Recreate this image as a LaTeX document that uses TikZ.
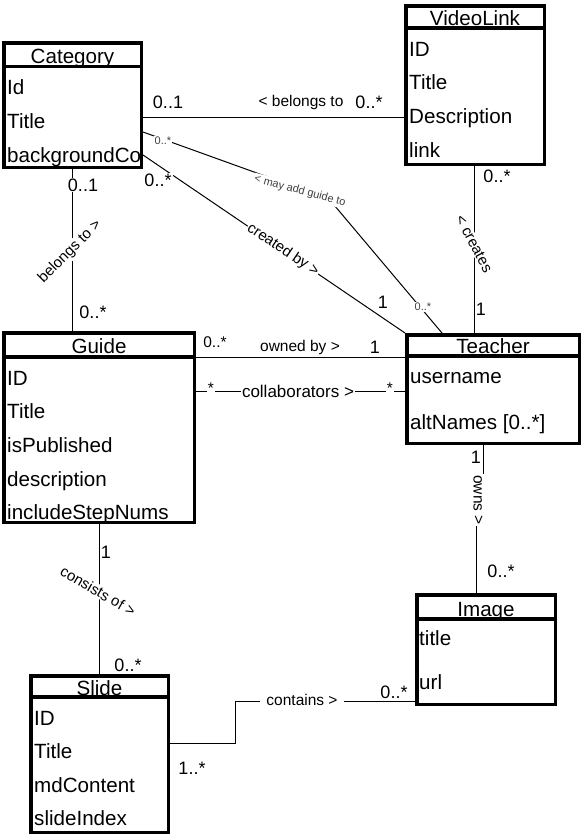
\documentclass[tikz,border=0pt]{standalone}
\usepackage{fontspec}
\setmainfont{Liberation Sans}
\newcommand\myfs[1]{\fontsize{#1}{#1}\selectfont}
\begin{document}
\begin{tikzpicture}[x=1pt,y=-1pt,
  cbox/.style={draw, line width=3.5pt, fill=white, inner sep=0pt, anchor=north west},
  sepline/.style={line width=3.5pt},
  hd/.style={anchor=base, inner sep=0pt, font=\myfs{20.6}},
  attr/.style={anchor=base west, inner sep=0pt, font=\myfs{20.6}},
  mult/.style={inner sep=1pt, font=\myfs{18}},
  smult/.style={inner sep=1pt, font=\myfs{11}, text=black!75},
  lab/.style={inner sep=1pt, font=\myfs{15.5}},
  rlab/.style={inner sep=1pt, font=\myfs{15}},
  wb/.style={fill=white},
  conn/.style={line width=1pt}
]
\useasboundingbox (0,0) rectangle (584,836);

% ---------- connectors ----------
\coordinate (bendA) at (329,199);
\coordinate (jogA) at (483,500);
\coordinate (jogB) at (476,500);
\coordinate (stepA) at (235,743);
\coordinate (stepB) at (235,701);

% ---------- class boxes ----------
\node[cbox, minimum width=137.5pt, minimum height=124.5pt] (cat) at (2,41) {};
\node[cbox, minimum width=138.5pt, minimum height=158.5pt] (vl)  at (404,4) {};
\node[cbox, minimum width=190.5pt, minimum height=189.5pt] (gui) at (2,331) {};
\node[cbox, minimum width=172.5pt, minimum height=108.5pt] (tea) at (405,333) {};
\node[cbox, minimum width=138.5pt, minimum height=109.5pt] (img) at (415,593) {};
\node[cbox, minimum width=137.5pt, minimum height=156.5pt] (sli) at (29,674) {};

\draw[conn] (cat.east |- 0,117) -- (vl.west |- 0,117);
\draw[conn] (cat.east |- 0,132) -- (bendA) -- (tea.north -| 442,0);
\draw[conn] (cat.east |- 0,155) -- (tea.north west);
\draw[conn] (vl.south -| 474,0) -- (tea.north -| 474,0);
\draw[conn] (cat.south -| 72,0) -- (gui.north -| 72,0);
\draw[conn] (gui.east |- 0,357) -- (tea.west |- 0,357);
\draw[conn] (gui.east |- 0,391) -- (tea.west |- 0,391);
\draw[conn] (tea.south -| jogA) -- (jogA) -- (jogB) -- (img.north -| jogB);
\draw[conn] (gui.south -| 99,0) -- (sli.north -| 99,0);
\draw[conn] (sli.east |- stepA) -- (stepA) -- (stepB) -- (img.west |- stepB);

% ---------- class texts ----------
\node[hd] (catH) at (cat.north |- 0,63) {Category};
\node[attr] (cat1) at (7,94) {Id};
\node[attr] (cat2) at (7,128) {Title};
\begin{scope}
  \clip (4,69) rectangle (140,167);
  \node[attr] (cat3) at (7,162) {backgroundColor};
\end{scope}

\node[hd] (vlH) at (vl.north |- 0,25) {VideoLink};
\node[attr] (vl1) at (409,56) {ID};
\node[attr] (vl2) at (409,89) {Title};
\node[attr] (vl3) at (409,123) {Description};
\node[attr] (vl4) at (409,157) {link};

\node[hd] (guiH) at (gui.north |- 0,353) {Guide};
\node[attr] (gui1) at (7,385) {ID};
\node[attr] (gui2) at (7,418) {Title};
\node[attr] (gui3) at (7,452) {isPublished};
\node[attr] (gui4) at (7,486) {description};
\node[attr] (gui5) at (7,519) {includeStepNums};

\node[hd] (teaH) at (tea.north |- 0,353) {Teacher};
\node[attr] (tea1) at (410,383) {username};
\node[attr] (tea2) at (410,429) {altNames [0..*]};

\node[hd] (imgH) at (img.north |- 0,616) {Image};
\node[attr] (img1) at (419,645) {title};
\node[attr] (img2) at (419,689) {url};

\node[hd] (sliH) at (sli.north |- 0,695) {Slide};
\node[attr] (sli1) at (34,725) {ID};
\node[attr] (sli2) at (34,758) {Title};
\node[attr] (sli3) at (34,792) {mdContent};
\node[attr] (sli4) at (34,825) {slideIndex};

% header separators drawn over the header texts
\draw[sepline] (cat.west |- 0,66.5) -- (cat.east |- 0,66.5);
\draw[sepline] (vl.west |- 0,28) -- (vl.east |- 0,28);
\draw[sepline] (gui.west |- 0,357) -- (gui.east |- 0,357);
\draw[sepline] (tea.west |- 0,356) -- (tea.east |- 0,356);
\draw[sepline] (img.west |- 0,619) -- (img.east |- 0,619);
\draw[sepline] (sli.west |- 0,697) -- (sli.east |- 0,697);

% ---------- connector labels ----------
% Category - VideoLink
\node[mult] (m1) at (168,102) {0..1};
\node[lab]  (l1) at (301,102) {< belongs to};
\node[mult] (m2) at (369,102) {0..*};
% may add guide to
\node[smult, wb] (m3) at (163,141) {0..*};
\node[rlab, wb, font=\myfs{11}, text=black!75, rotate=-15] (l2) at (300,191) {< may add guide to};
\node[smult, wb] (m4) at (423,307) {0..*};
% created by
\node[mult, wb] (m5) at (158,180) {0..*};
\node[rlab, wb, rotate=-34] (l3) at (283,250) {created by >};
\node[mult, wb] (m6) at (383,302) {1};
% creates
\node[mult] (m7) at (497,176) {0..*};
\node[rlab, wb, rotate=-62] (l4) at (474,244) {< creates};
\node[mult] (m8) at (481,309) {1};
% Category - Guide
\node[mult, wb] (m9) at (83,185) {0..1};
\node[rlab, wb, rotate=45] (l5) at (70,252) {belongs to >};
\node[mult] (m10) at (93,312) {0..*};
% owned by
\node[lab] (m11) at (215,342) {0..*};
\node[lab] (l6) at (300,347) {owned by >};
\node[mult] (m12) at (375,347) {1};
% collaborators
\node[lab, wb] (m13) at (211,388) {*};
\node[lab, wb, font=\myfs{17}] (l7) at (298,391) {collaborators >};
\node[lab, wb] (m14) at (390,388) {*};
% owns
\node[mult] (m15) at (476,457) {1};
\node[rlab, wb, font=\myfs{15.5}, rotate=-90] (l8) at (478,500) {owns >};
\node[mult] (m16) at (501,571) {0..*};
% consists of
\node[mult] (m17) at (106,552) {1};
\node[rlab, wb, rotate=-30] (l9) at (98,591) {consists of >};
\node[mult] (m18) at (128,665) {0..*};
% contains
\node[lab, wb, inner xsep=6pt] (l10) at (302,700) {contains >};
\node[mult] (m19) at (394,692) {0..*};
\node[mult] (m20) at (192,768) {1..*};
\end{tikzpicture}
\end{document}
